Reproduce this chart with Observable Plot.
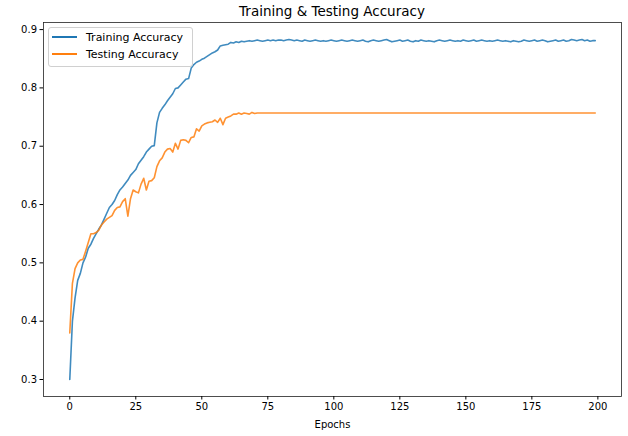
<!DOCTYPE html>
<html>
<head>
<meta charset="utf-8">
<script src="https://cdn.jsdelivr.net/npm/d3@7"></script>
<script src="https://cdn.jsdelivr.net/npm/@observablehq/plot@0.6"></script>
<style>
  html, body { margin: 0; padding: 0; background: #fff; }
  #wrap { position: relative; width: 628px; height: 436px; font-family: "DejaVu Sans", sans-serif; }
  #title { position: absolute; left: 43px; width: 578px; top: 3px; text-align: center; font-size: 13.5px; color: #000; }
  #legend { position: absolute; left: 48px; top: 27px; width: 143px; height: 38px; border: 1px solid #d0d0d0; border-radius: 3px; background: rgba(255,255,255,0.8); font-size: 11px; color: #000; }
  .item { position: absolute; left: 3px; height: 14px; line-height: 14px; white-space: nowrap; }
  .sw { display: inline-block; width: 25px; height: 0; border-top: 2px solid; vertical-align: middle; margin-right: 9px; position: relative; top: -1px; }
</style>
</head>
<body>
<div id="wrap">
  <div id="chart"></div>
  <div id="title">Training &amp; Testing Accuracy</div>
  <div id="legend"></div>
</div>
<script>
const seriesNames = ["Training Accuracy", "Testing Accuracy"];
const seriesColors = ["#1f77b4", "#ff7f0e"];
const xTicks = [0, 25, 50, 75, 100, 125, 150, 175, 200];
const yTicks = [0.3, 0.4, 0.5, 0.6, 0.7, 0.8, 0.9];
const xLabel = "Epochs";

const trainAcc = [
  0.300, 0.400, 0.440, 0.470, 0.482, 0.500, 0.510, 0.525, 0.532, 0.542,
  0.550, 0.558, 0.565, 0.575, 0.585, 0.595, 0.600, 0.607, 0.617, 0.625,
  0.630, 0.636, 0.642, 0.650, 0.655, 0.660, 0.670, 0.676, 0.682, 0.690,
  0.695, 0.700, 0.701, 0.740, 0.758, 0.765, 0.771, 0.778, 0.784, 0.790,
  0.799, 0.800, 0.805, 0.810, 0.815, 0.816, 0.834, 0.840, 0.844, 0.846,
  0.849, 0.851, 0.854, 0.857, 0.860, 0.862, 0.865, 0.872, 0.873, 0.874,
  0.875, 0.878, 0.877, 0.879, 0.878, 0.880,
  0.879, 0.880, 0.881, 0.880, 0.881, 0.882, 0.881, 0.880, 0.881, 0.882,
  0.881, 0.882, 0.881, 0.882, 0.882, 0.881, 0.882, 0.883, 0.882, 0.881,
  0.882, 0.881, 0.880, 0.882, 0.881, 0.880, 0.881, 0.882, 0.881, 0.880,
  0.881, 0.880, 0.881, 0.882, 0.881, 0.880, 0.881, 0.882, 0.881, 0.880,
  0.881, 0.882, 0.881, 0.880, 0.881, 0.882, 0.880, 0.879, 0.881, 0.882,
  0.881, 0.880, 0.881, 0.882, 0.883, 0.881, 0.879, 0.880, 0.881, 0.882,
  0.880, 0.881, 0.882, 0.880, 0.879, 0.881, 0.880, 0.882, 0.881, 0.880,
  0.881, 0.880, 0.879, 0.881, 0.882, 0.881, 0.880, 0.881, 0.882, 0.881,
  0.880, 0.881, 0.880, 0.882, 0.881, 0.880, 0.881, 0.882, 0.880, 0.881,
  0.882, 0.881, 0.880, 0.881, 0.880, 0.881, 0.882, 0.881, 0.880, 0.881,
  0.880, 0.879, 0.881, 0.880, 0.879, 0.880, 0.882, 0.881, 0.880, 0.881,
  0.882, 0.880, 0.881, 0.882, 0.881, 0.879, 0.880, 0.881, 0.882, 0.880,
  0.881, 0.882, 0.880, 0.881, 0.883, 0.882, 0.881, 0.882, 0.883, 0.881,
  0.882, 0.880, 0.881, 0.881
];

const testAcc = [
  0.380, 0.465, 0.490, 0.500, 0.505, 0.506, 0.520, 0.535, 0.550, 0.550,
  0.552, 0.556, 0.565, 0.570, 0.575, 0.578, 0.581, 0.590, 0.595, 0.596,
  0.605, 0.610, 0.580, 0.610, 0.625, 0.622, 0.620, 0.635, 0.645, 0.625,
  0.640, 0.641, 0.646, 0.665, 0.675, 0.680, 0.690, 0.695, 0.696, 0.690,
  0.705, 0.695, 0.710, 0.711, 0.710, 0.706, 0.715, 0.716, 0.730, 0.726,
  0.735, 0.738, 0.740, 0.741, 0.742, 0.745, 0.741, 0.748, 0.737, 0.748,
  0.750, 0.752, 0.755, 0.755, 0.757, 0.755, 0.757, 0.756, 0.755, 0.758,
  0.756,
  0.757, 0.757, 0.757, 0.757, 0.757, 0.757, 0.757, 0.757, 0.757, 0.757,
  0.757, 0.757, 0.757, 0.757, 0.757, 0.757, 0.757, 0.757, 0.757, 0.757,
  0.757, 0.757, 0.757, 0.757, 0.757, 0.757, 0.757, 0.757, 0.757, 0.757,
  0.757, 0.757, 0.757, 0.757, 0.757, 0.757, 0.757, 0.757, 0.757, 0.757,
  0.757, 0.757, 0.757, 0.757, 0.757, 0.757, 0.757, 0.757, 0.757, 0.757,
  0.757, 0.757, 0.757, 0.757, 0.757, 0.757, 0.757, 0.757, 0.757, 0.757,
  0.757, 0.757, 0.757, 0.757, 0.757, 0.757, 0.757, 0.757, 0.757, 0.757,
  0.757, 0.757, 0.757, 0.757, 0.757, 0.757, 0.757, 0.757, 0.757, 0.757,
  0.757, 0.757, 0.757, 0.757, 0.757, 0.757, 0.757, 0.757, 0.757, 0.757,
  0.757, 0.757, 0.757, 0.757, 0.757, 0.757, 0.757, 0.757, 0.757, 0.757,
  0.757, 0.757, 0.757, 0.757, 0.757, 0.757, 0.757, 0.757, 0.757, 0.757,
  0.757, 0.757, 0.757, 0.757, 0.757, 0.757, 0.757, 0.757, 0.757, 0.757,
  0.757, 0.757, 0.757, 0.757, 0.757, 0.757, 0.757, 0.757, 0.757
];

const rows = [];
trainAcc.forEach((v, i) => rows.push({epoch: i, acc: v, series: seriesNames[0]}));
testAcc.forEach((v, i) => rows.push({epoch: i, acc: v, series: seriesNames[1]}));

const n = Math.max(trainAcc.length, testAcc.length) - 1;
const xPad = n * 0.05;
const allY = trainAcc.concat(testAcc);
const yMin = d3.min(allY), yMax = d3.max(allY);
const yPad = (yMax - yMin) * 0.05;

const chart = Plot.plot({
  width: 628,
  height: 436,
  marginLeft: 43,
  marginRight: 7,
  marginTop: 22,
  marginBottom: 40,
  style: {fontFamily: "DejaVu Sans, sans-serif", fontSize: "10px", color: "#000", background: "#fff"},
  x: {domain: [-xPad, n + xPad]},
  y: {domain: [yMin - yPad, yMax + yPad]},
  color: {domain: seriesNames, range: seriesColors},
  marks: [
    Plot.line(rows, {x: "epoch", y: "acc", z: "series", stroke: "series", strokeWidth: 1.6, strokeOpacity: 0.85}),
    Plot.frame({stroke: "#222", strokeWidth: 0.8}),
    Plot.axisX({ticks: xTicks, tickSize: 3.5, tickPadding: 3, label: xLabel, labelAnchor: "center", labelOffset: 31, labelArrow: "none", fontSize: 10}),
    Plot.axisY({ticks: yTicks, tickSize: 3.5, tickPadding: 3, tickFormat: d3.format(".1f"), label: null, fontSize: 10})
  ]
});
document.getElementById("chart").appendChild(chart);

const legend = document.getElementById("legend");
seriesNames.forEach((name, i) => {
  const item = document.createElement("div");
  item.className = "item";
  item.style.top = (3 + i * 17) + "px";
  const sw = document.createElement("span");
  sw.className = "sw";
  sw.style.borderTopColor = seriesColors[i];
  item.appendChild(sw);
  item.appendChild(document.createTextNode(name));
  legend.appendChild(item);
});
</script>
</body>
</html>
